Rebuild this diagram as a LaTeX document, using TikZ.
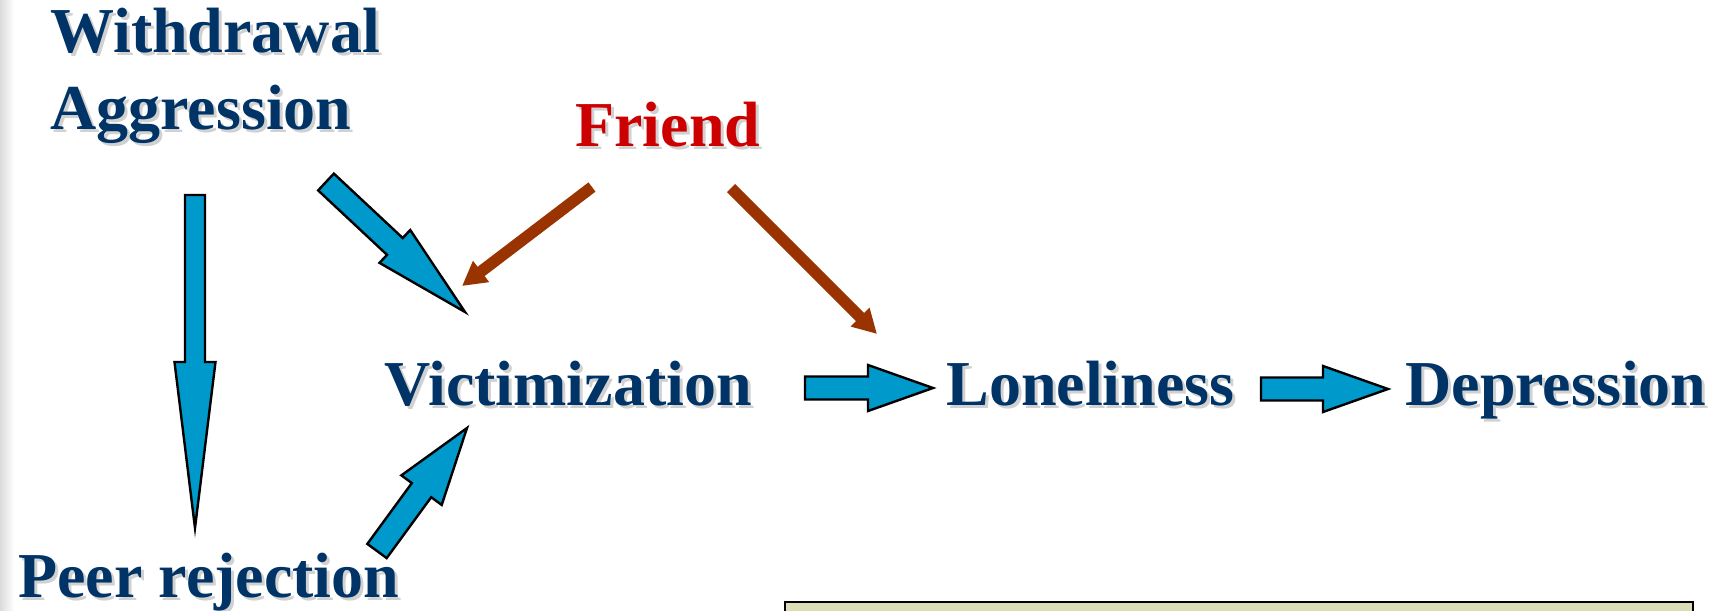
\documentclass[tikz,border=0pt]{standalone}
\usepackage{fontspec}
\setmainfont{Liberation Serif}
\usepackage{tikz}
\usetikzlibrary{arrows.meta,calc,positioning}

\definecolor{navy}{RGB}{0,51,102}
\definecolor{friendred}{RGB}{204,0,0}
\definecolor{brownarr}{RGB}{153,51,0}
\definecolor{arrblue}{RGB}{0,153,204}
\definecolor{boxfill}{RGB}{221,221,181}

\newcommand{\shadowed}[1]{\makebox[0pt][l]{\hspace{1.5pt}\raisebox{-1.5pt}{\textcolor{black!18}{#1}}}#1}

\tikzset{
  lbl/.style={text=navy, font=\fontsize{32}{38}\selectfont\bfseries, inner sep=0pt, anchor=base west},
  friendlbl/.style={lbl, text=friendred},
  fatarr/.style={draw=black, line width=1.2pt, fill=arrblue, line join=miter},
  thinarr/.style={draw=brownarr, line width=5.8pt, -{Triangle[length=12pt,width=12.5pt]}}
}

% tail, tip, half shaft, half head, head length
\newcommand{\fatarrow}[5]{%
  \path ($(#2)!#5!(#1)$) coordinate (hb);
  \draw[fatarr] ($(#1)!#3!90:(#2)$) -- ($(hb)!#3!90:(#2)$) -- ($(hb)!#4!90:(#2)$) -- (#2)
    -- ($(hb)!#4!-90:(#2)$) -- ($(hb)!#3!-90:(#2)$) -- ($(#1)!#3!-90:(#2)$) -- cycle;}

\begin{document}
\begin{tikzpicture}[x=0.5pt,y=-0.5pt]
  \useasboundingbox (0,0) rectangle (1712,610);
  \shade[left color=black!14, right color=white] (0,0) rectangle (14,610);

  \node[lbl] (withdraw) at (50,53) {\shadowed{Withdrawal}};
  \node[lbl] (aggress) at (50,130) {\shadowed{Aggression}};
  \node[friendlbl] (friend) at (575,147) {\shadowed{Friend}};
  \node[lbl] (victim) at (384,405) {\shadowed{Victimization}};
  \node[lbl] (lonely) at (946,405) {\shadowed{Loneliness}};
  \node[lbl] (depress) at (1405,405) {\shadowed{Depression}};
  \node[lbl] (peer) at (18,597) {\shadowed{Peer rejection}};

  \coordinate (ap-s) at (195,195);
  \coordinate (ap-e) at (195,528);
  \coordinate (av-s) at (326,182);
  \coordinate (av-e) at (465,312);
  \coordinate (pv-s) at (377,551);
  \coordinate (pv-e) at (467,428);
  \coordinate (vl-s) at (805,388);
  \coordinate (vl-e) at (933,388);
  \coordinate (ld-s) at (1261,389);
  \coordinate (ld-e) at (1388,389);
  \coordinate (fv-s) at (592,187);
  \coordinate (fv-e) at (462,286);
  \coordinate (fl-s) at (731,188);
  \coordinate (fl-e) at (877,334);

  \fatarrow{ap-s}{ap-e}{5pt}{10.25pt}{83pt}
  \fatarrow{av-s}{av-e}{5.75pt}{11.25pt}{48pt}
  \fatarrow{pv-s}{pv-e}{6pt}{12.5pt}{38.5pt}
  \fatarrow{vl-s}{vl-e}{5.75pt}{11.5pt}{32.5pt}
  \fatarrow{ld-s}{ld-e}{5.75pt}{11.5pt}{32.5pt}

  \draw[thinarr] (fv-s) -- (fv-e);
  \draw[thinarr] (fl-s) -- (fl-e);

  \filldraw[fill=boxfill, draw=black, line width=1.3pt] (785,614) |- (1693,602) -- (1693,614);
\end{tikzpicture}
\end{document}
